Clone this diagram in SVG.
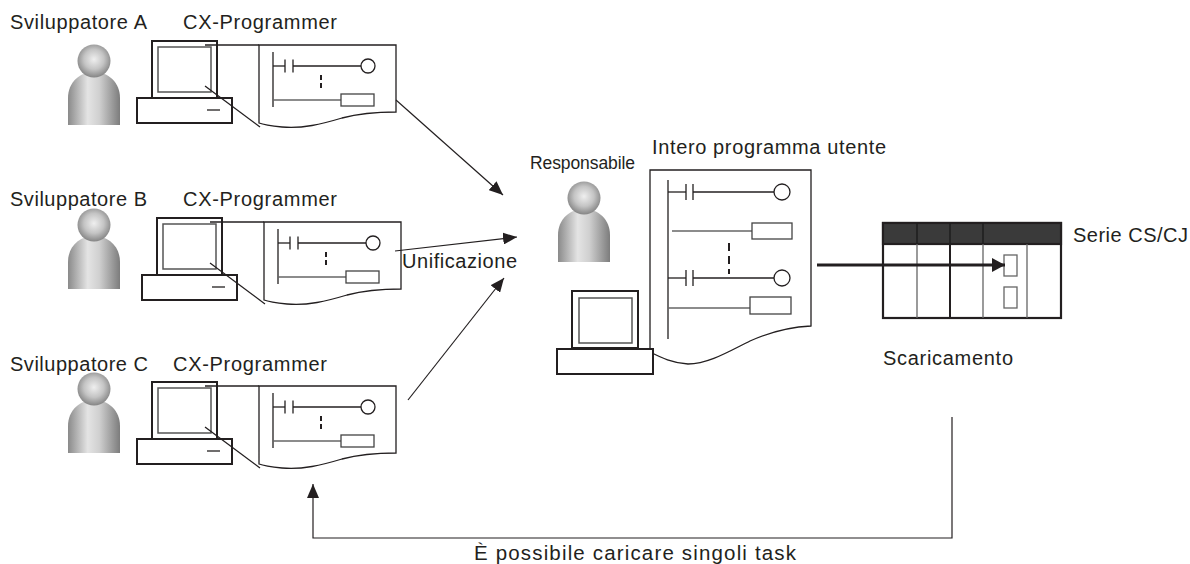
<svg xmlns="http://www.w3.org/2000/svg" xmlns:xlink="http://www.w3.org/1999/xlink" width="1190" height="564" viewBox="0 0 1190 564">
  <style>
    text { font-family: "Liberation Sans", Arial, Helvetica, sans-serif; font-size: 20px; fill: #231f20; }
    .frame { fill: #fff; stroke: #231f20; stroke-width: 2; }
    .screen { fill: #fff; stroke: #555; stroke-width: 1.5; }
    .sheet { fill: #fff; stroke: #231f20; stroke-width: 1.3; }
    .ln { fill: none; stroke: #231f20; stroke-width: 1.3; }
    .gl { fill: none; stroke: #666; stroke-width: 1.3; }
    .coil { fill: #fff; stroke: #231f20; stroke-width: 1.3; }
    .box { fill: #fff; stroke: #444; stroke-width: 1.3; }
    .dash { fill: none; stroke: #231f20; stroke-width: 2; }
    .conn { fill: none; stroke: #231f20; stroke-width: 1.2; }
  </style>
  <defs>
    <linearGradient id="bodyShade" x1="0" y1="0" x2="1" y2="0">
      <stop offset="0" stop-color="#8a8a8a"/>
      <stop offset="0.38" stop-color="#e4e4e4"/>
      <stop offset="0.6" stop-color="#d0d0d0"/>
      <stop offset="1" stop-color="#7c7c7c"/>
    </linearGradient>
    <radialGradient id="headShade" cx="0.5" cy="0.45" r="0.55">
      <stop offset="0" stop-color="#efefef"/>
      <stop offset="0.55" stop-color="#c4c4c4"/>
      <stop offset="1" stop-color="#858585"/>
    </radialGradient>
    <marker id="head" markerUnits="userSpaceOnUse" markerWidth="15" markerHeight="12" refX="14" refY="6" orient="auto">
      <path d="M0,0 L14,6 L0,12 Z" fill="#231f20"/>
    </marker>
    <marker id="headBold" markerUnits="userSpaceOnUse" markerWidth="14" markerHeight="14" refX="13" refY="7" orient="auto">
      <path d="M0,0 L13,7 L0,14 Z" fill="#231f20"/>
    </marker>

    <!-- person silhouette, origin at head centre -->
    <g id="person">
      <path d="M-26,64 V37 C-26,21 -14,11 0,11 C14,11 26,21 26,37 V64 Z" fill="url(#bodyShade)"/>
      <circle cx="0" cy="0" r="16.5" fill="url(#headShade)"/>
    </g>

    <!-- developer workstation with zoomed ladder sheet, origin at monitor top-left -->
    <g id="workstation">
      <rect class="frame" x="0" y="0" width="65" height="57"/>
      <rect class="screen" x="6" y="6" width="53" height="45"/>
      <rect class="frame" x="-15" y="57" width="95" height="25"/>
      <line class="ln" x1="55" y1="69" x2="68" y2="69"/>
      <path class="sheet" d="M107,82 V4 H244 V71 C225,71 205,73 190,77 C170,83 150,88 130,86 C120,85 112,84 107,82 Z"/>
      <line class="ln" x1="53" y1="4" x2="107" y2="4"/>
      <line class="ln" x1="53" y1="45" x2="108" y2="86"/>
      <!-- ladder -->
      <line class="ln" x1="121" y1="11" x2="121" y2="66"/>
      <line class="ln" x1="121" y1="25" x2="133" y2="25"/>
      <line class="ln" x1="133" y1="18.5" x2="133" y2="31.5"/>
      <line class="ln" x1="141" y1="18.5" x2="141" y2="31.5"/>
      <line class="ln" x1="141" y1="25" x2="209" y2="25"/>
      <circle class="coil" cx="216" cy="25" r="7"/>
      <path class="dash" d="M169,34 V39 M169,42 V47"/>
      <line class="gl" x1="121" y1="59" x2="189" y2="59"/>
      <rect class="box" x="189" y="53" width="33" height="12"/>
    </g>
  </defs>

  <!-- Developer A -->
  <g id="dev-a">
    <text x="10" y="29" textLength="137">Sviluppatore A</text>
    <text x="183" y="29" textLength="154">CX-Programmer</text>
    <use xlink:href="#person" href="#person" transform="translate(94,61)"/>
    <use xlink:href="#workstation" href="#workstation" transform="translate(152,41)"/>
  </g>

  <!-- Developer B -->
  <g id="dev-b">
    <text x="10" y="206" textLength="137">Sviluppatore B</text>
    <text x="183" y="206" textLength="154">CX-Programmer</text>
    <use xlink:href="#person" href="#person" transform="translate(94,225)"/>
    <use xlink:href="#workstation" href="#workstation" transform="translate(157,218)"/>
  </g>

  <!-- Developer C -->
  <g id="dev-c">
    <text x="10" y="371" textLength="138">Sviluppatore C</text>
    <text x="173" y="371" textLength="154">CX-Programmer</text>
    <use xlink:href="#person" href="#person" transform="translate(94,389)"/>
    <use xlink:href="#workstation" href="#workstation" transform="translate(152,382)"/>
  </g>

  <!-- Merge label -->
  <g id="merge-label">
    <text x="402" y="268" textLength="115">Unificazione</text>
  </g>

  <!-- Project manager with the complete user program -->
  <g id="manager">
    <text x="530" y="169" style="font-size:17.5px" textLength="105">Responsabile</text>
    <use xlink:href="#person" href="#person" transform="translate(584,198)"/>
    <text x="652" y="154" textLength="234">Intero programma utente</text>
    <path class="sheet" d="M650,352 V170 H811 V326 C790,327 770,332 750,341 C728,352 708,364 688,364 C672,363 662,358 650,352 Z"/>
    <!-- ladder -->
    <line class="ln" x1="668" y1="180" x2="668" y2="339"/>
    <line class="ln" x1="668" y1="192" x2="686" y2="192"/>
    <line class="ln" x1="686" y1="184" x2="686" y2="200"/>
    <line class="ln" x1="693" y1="184" x2="693" y2="200"/>
    <line class="ln" x1="693" y1="192" x2="774" y2="192"/>
    <circle class="coil" cx="782" cy="192" r="8"/>
    <line class="gl" x1="672" y1="231" x2="752" y2="231"/>
    <rect class="box" x="752" y="223" width="40" height="16"/>
    <path class="dash" d="M729,243 V251 M729,256 V264 M729,269 V274"/>
    <line class="ln" x1="668" y1="278" x2="686" y2="278"/>
    <line class="ln" x1="686" y1="270" x2="686" y2="286"/>
    <line class="ln" x1="693" y1="270" x2="693" y2="286"/>
    <line class="ln" x1="693" y1="278" x2="774" y2="278"/>
    <circle class="coil" cx="782" cy="278" r="8"/>
    <line class="gl" x1="668" y1="308" x2="750" y2="308"/>
    <rect class="box" x="750" y="297" width="41" height="17"/>
    <!-- computer -->
    <rect class="frame" x="572" y="291" width="66" height="57"/>
    <rect class="screen" x="579" y="298" width="53" height="45"/>
    <rect class="frame" x="557" y="349" width="96" height="25"/>
  </g>

  <!-- PLC rack -->
  <g id="plc">
    <rect x="883" y="223" width="178" height="95" fill="#fff" stroke="#231f20" stroke-width="2.2"/>
    <rect x="883" y="223" width="178" height="21" fill="#3a3a3a" stroke="#231f20" stroke-width="2.2"/>
    <path d="M917,223 V244 M950,223 V244 M983,223 V244" stroke="#1e1e1e" stroke-width="1.5"/>
    <path d="M917,244 V318 M983,244 V318 M1027,244 V318" stroke="#666" stroke-width="1.3"/>
    <line x1="950" y1="244" x2="950" y2="318" stroke="#231f20" stroke-width="2"/>
    <rect x="1004" y="255" width="13" height="21" fill="#fff" stroke="#666" stroke-width="1.3"/>
    <rect x="1004" y="287" width="13" height="21" fill="#fff" stroke="#666" stroke-width="1.3"/>
    <text x="1073" y="242" textLength="115">Serie CS/CJ</text>
    <text x="883" y="365" textLength="130">Scaricamento</text>
  </g>

  <!-- Connectors -->
  <g id="connectors">
    <line class="conn" x1="396" y1="100" x2="503" y2="195" marker-end="url(#head)"/>
    <line class="conn" x1="395" y1="251" x2="517" y2="237" marker-end="url(#head)"/>
    <line class="conn" x1="408" y1="400" x2="504" y2="278" marker-end="url(#head)"/>
    <line x1="817" y1="265" x2="1005" y2="265" stroke="#231f20" stroke-width="3" marker-end="url(#headBold)"/>
    <polyline class="conn" points="952,417 952,538 313,538 313,484" marker-end="url(#head)"/>
    <text x="635" y="560" text-anchor="middle" style="font-size:20.5px" textLength="322">È possibile caricare singoli task</text>
  </g>
</svg>
